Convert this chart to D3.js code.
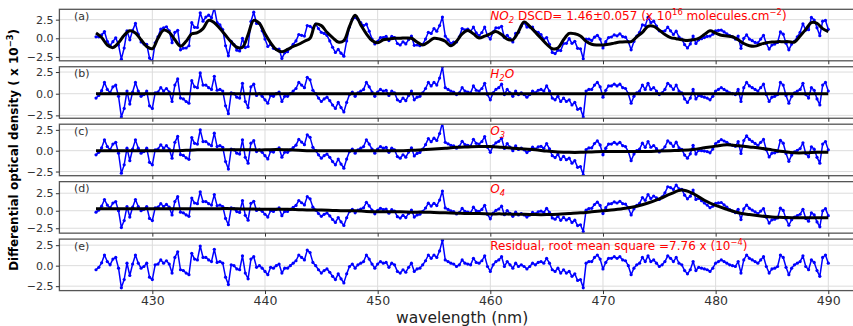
<!DOCTYPE html>
<html>
<head>
<meta charset="utf-8">
<script src="https://cdn.jsdelivr.net/npm/d3@7"></script>
<style>
  body { margin: 0; background: #fff; }
  svg { display: block; font-family: "DejaVu Sans", sans-serif; }
</style>
</head>
<body>
<div id="chart"></div>
<script>
// wavelength grid (nm)
const wlStart = 425;
const residualStep = 0.25;

// fit residual, x 10^-3 (panel e), one value every 0.25 nm from 425 to 490
const residual = [
  -0.5, -0.2, 0.35, 1.3, 0.5, 0.1, 0.8, 1.0, -0.3, -2.7,
  -1.7, 0.3, -1.2, 0.2, 1.3, 0.3, -0.3, -0.1, 0.3, -1.4,
  -1.7, 0.1, 0.2, 0.7, 0.3, 0.6, 0.2, -0.9, 1.0, 1.7,
  -0.5, -0.6, -0.9, -1.1, 1.5, 0.8, 0.7, 2.4, 1.0, 1.0,
  0.7, 0.5, 2.0, 0.4, 0.5, 0.3, -1.4, -2.3, 0.1, 0.0,
  -0.4, -0.5, 1.2, -0.9, -1.6, 0.8, 1.1, -0.2, 0.0, -0.3,
  -0.7, -1.1, -0.2, -0.3, 0.0, 0.2, -0.9, -0.3, -0.3, 0.0,
  0.3, 0.6, 1.3, 1.0, 0.7, 1.9, 1.6, 0.4, 0.0, -0.5,
  -0.9, -0.6, -0.4, -0.8, -1.3, -1.7, -1.0, -1.6, -2.1, -1.0,
  -0.1, 0.2, -0.3, 0.1, 0.3, 0.5, 1.3, 0.8, 0.2, -0.3,
  0.2, 0.5, 0.3, 0.4, -0.2, 0.3, 0.1, -0.7, -0.9, -0.5,
  -0.8, -0.2, 0.3, -0.7, -0.4, -0.3, 0.1, 0.6, 1.3, 0.9,
  1.3, 1.0, 1.8, 3.1, 0.7, 0.5, 0.3, 0.2, -0.1, 0.1,
  0.7, 0.3, 0.2, 0.1, 0.9, 0.4, 0.3, 0.6, 1.2, -0.1,
  -0.7, 0.1, 0.5, 0.7, 1.1, -0.1, 0.5, 0.1, -0.3, 0.3,
  -0.1, 0.1, -0.1, -0.4, -0.1, 0.3, 0.1, 0.4, 0.5, 0.3,
  0.9, 0.3, -0.5, -0.7, -0.3, -0.9, -0.5, -0.9, -0.7, -1.3,
  -1.0, -1.8, -1.7, -2.7, 0.3, 0.5, 0.5, 1.0, 1.3, 0.8,
  -0.4, 0.4, 0.9, 0.9, 1.1, 0.9, 1.1, 0.7, 0.6, 0.0,
  -1.1, -0.3, 0.1, 0.3, 1.0, 0.5, 1.2, 0.5, 0.7, 0.3,
  -0.1, 0.1, 0.5, 1.2, 0.9, 0.5, 1.0, 0.3, 0.1, -0.6,
  -1.0, -0.5, 0.5, -0.6, -0.2, -0.3, -0.4, -0.5, -0.7, -0.3,
  0.3, 0.5, 0.7, 0.5, 0.3, 0.1, 0.0, -0.1, 0.5, -0.9,
  0.7, 1.3, 0.9, 0.7, 0.5, 0.3, 0.7, 1.1, -0.1, -0.9,
  -0.4, -0.3, -0.1, 1.3, 1.0, -0.2, -1.1, -0.3, 0.1, 0.3,
  0.5, 1.2, -0.1, -0.5, 0.7, 0.4, -0.6, -1.3, 1.0, 1.3,
  0.3
];

// fitted NO2 cross section, every 0.5 nm
const no2Step = 0.5;
const no2Fit = [
  0.7, 0.1, -0.9, -1.25, -0.6, 0.4, 1.0, 0.7, -0.2, -1.1,
  -1.4, 0.0, 1.1, 0.8, -0.2, -1.05, -0.4, 0.6, 0.75, 1.3,
  2.4, 2.1, 1.3, 0.4, -0.5, -1.2, -1.2, 0.5, 2.4, 2.0,
  0.6, -0.6, -1.5, -1.8, -1.5, -1.1, -0.8, -0.4, 0.0, 1.9,
  1.7, 0.8, 0.1, -0.5, -0.3, 1.6, 3.1, 1.8, 0.6, -0.3,
  -0.6, -0.2, -0.1, 0.0, 0.0, 0.05, 0.0, -0.5, -0.9, -0.5,
  0.0, -0.1, -0.4, -1.0, -0.4, 0.6, 1.05, 0.6, 0.05, 0.3,
  0.6, 0.9, 0.5, -0.1, -0.2, 0.9, 2.2, 1.6, 0.8, 0.0,
  -0.8, -1.4, -1.3, -0.2, 0.65, 0.6, 0.3, -0.4, -0.8, -0.9,
  -0.9, -0.8, -0.65, -0.5, -0.45, -0.45, 0.2, 0.8, 1.6, 1.6,
  1.1, 0.5, 0.1, -0.05, -0.2, -0.3, -0.2, 0.0, 0.5, 1.0,
  0.7, 0.4, 0.3, 0.2, -0.2, -0.7, -1.0, -1.05, -0.8, -0.6,
  -0.5, -0.45, -0.45, -0.45, -0.5, 0.3, 1.2, 2.1, 2.0, 1.3,
  0.9
];

// fitted H2O, every 5 nm
const h2oStep = 5;
const h2oFit = [0.0, 0.0, 0.0, 0.0, 0.0, 0.0, 0.0, 0.0, 0.0, 0.0, 0.0, 0.0, 0.0, 0.0];

// fitted O3 and O4, every 1 nm
const o3Step = 1;
const o3Fit = [
  0.0, 0.0, 0.0, 0.0, 0.0, 0.0, 0.0, 0.0, 0.05, 0.1,
  0.1, 0.1, 0.1, 0.1, 0.1, 0.1, 0.15, 0.1, 0.05, 0.0,
  0.0, 0.0, 0.0, 0.0, 0.0, 0.0, 0.0, 0.0, 0.05, 0.1,
  0.2, 0.3, 0.4, 0.45, 0.5, 0.5, 0.4, 0.3, 0.2, 0.1,
  -0.05, -0.15, -0.2, -0.2, -0.15, -0.1, -0.1, -0.1, -0.1, -0.1,
  -0.05, 0.0, 0.05, 0.15, 0.35, 0.55, 0.7, 0.6, 0.45, 0.3,
  0.1, -0.1, -0.25, -0.25, -0.2, -0.2
];
const o4Step = 1;
const o4Fit = [
  0.3, 0.3, 0.3, 0.3, 0.3, 0.3, 0.3, 0.3, 0.3, 0.3,
  0.3, 0.3, 0.3, 0.25, 0.25, 0.2, 0.2, 0.2, 0.15, 0.1,
  0.1, 0.05, 0.0, 0.0, -0.1, -0.15, -0.15, -0.15, -0.2, -0.2,
  -0.25, -0.3, -0.35, -0.4, -0.4, -0.45, -0.45, -0.5, -0.5, -0.55,
  -0.55, -0.5, -0.4, -0.3, -0.15, 0.0, 0.15, 0.35, 0.65, 1.1,
  1.7, 2.4, 2.95, 2.45, 1.5, 0.75, 0.2, -0.3, -0.55, -0.75,
  -0.9, -0.95, -1.0, -1.0, -1.0, -1.0
];

const xTicks = [430, 440, 450, 460, 470, 480, 490];
const yTicks = [-2.5, 0, 2.5];
const panelLabels = ['(a)', '(b)', '(c)', '(d)', '(e)'];

const width = 853, height = 326;
const svg = d3.select('#chart').append('svg')
  .attr('width', width).attr('height', height);

const x = d3.scaleLinear().domain([421.75, 493.25]).range([59.4, 864.9]);

const panelTop = 9.3, panelH = 51.5, panelGap = 57.45;
const panels = [
  { fit: no2Fit, step: no2Step, domain: [-3.02, 3.89] },
  { fit: h2oFit, step: h2oStep, domain: [-2.83, 3.11] },
  { fit: o3Fit, step: o3Step, domain: [-3.0, 3.18] },
  { fit: o4Fit, step: o4Step, domain: [-3.2, 4.15] },
  { fit: null, step: null, domain: [-3.04, 3.24] }
];

const frameColor = '#555';
const gridColor = '#dcdcdc';
const textColor = '#333';

panels.forEach((p, i) => {
  const top = panelTop + i * panelGap;
  const bottom = top + panelH;
  const y = d3.scaleLinear().domain(p.domain).range([bottom, top]);
  const g = svg.append('g');

  const clipId = 'clip' + i;
  svg.append('clipPath').attr('id', clipId)
    .append('rect')
    .attr('x', x.range()[0]).attr('y', top)
    .attr('width', x.range()[1] - x.range()[0]).attr('height', panelH);

  // grid
  g.selectAll('.vgrid').data(xTicks).enter().append('line')
    .attr('x1', d => x(d)).attr('x2', d => x(d))
    .attr('y1', top).attr('y2', bottom)
    .attr('stroke', gridColor).attr('stroke-width', 1);
  g.selectAll('.hgrid').data(yTicks).enter().append('line')
    .attr('x1', x.range()[0]).attr('x2', x.range()[1])
    .attr('y1', d => y(d)).attr('y2', d => y(d))
    .attr('stroke', gridColor).attr('stroke-width', 1);

  // measured = fitted + residual
  let fitFn = null;
  if (p.fit) {
    fitFn = d3.scaleLinear()
      .domain(p.fit.map((_, k) => wlStart + k * p.step))
      .range(p.fit);
  }
  const measured = residual.map((r, k) => {
    const wl = wlStart + k * residualStep;
    return { wl, v: (fitFn ? fitFn(wl) : 0) + r };
  });

  const plot = g.append('g').attr('clip-path', `url(#${clipId})`);

  const blueLine = d3.line().x(d => x(d.wl)).y(d => y(d.v));
  plot.append('path').datum(measured)
    .attr('d', blueLine)
    .attr('fill', 'none').attr('stroke', '#0000ff')
    .attr('stroke-width', 1.5).attr('stroke-linejoin', 'round');
  plot.selectAll('.dot').data(measured).enter().append('circle')
    .attr('cx', d => x(d.wl)).attr('cy', d => y(d.v))
    .attr('r', 1.6).attr('fill', '#0000ff');

  if (p.fit) {
    const fitLine = d3.line()
      .x((d, k) => x(wlStart + k * p.step))
      .y(d => y(d))
      .curve(d3.curveCatmullRom);
    plot.append('path').datum(p.fit)
      .attr('d', fitLine)
      .attr('fill', 'none').attr('stroke', '#000')
      .attr('stroke-width', 3).attr('stroke-linejoin', 'round');
  }

  // frame
  g.append('rect')
    .attr('x', x.range()[0]).attr('y', top)
    .attr('width', x.range()[1] - x.range()[0]).attr('height', panelH)
    .attr('fill', 'none').attr('stroke', frameColor).attr('stroke-width', 1.3);

  // y axis
  const ya = g.append('g')
    .attr('transform', `translate(${x.range()[0]},0)`)
    .call(d3.axisLeft(y).tickValues(yTicks).tickFormat(d3.format('.1f'))
      .tickSize(3.5).tickPadding(2.5).tickSizeOuter(0));
  ya.select('.domain').remove();
  ya.selectAll('line').attr('stroke', textColor);
  ya.selectAll('text').attr('fill', textColor)
    .style('font-size', '11px').style('font-family', '"DejaVu Sans", sans-serif');

  // x axis
  const last = i === panels.length - 1;
  const xa = g.append('g')
    .attr('transform', `translate(0,${bottom})`)
    .call(d3.axisBottom(x).tickValues(xTicks)
      .tickFormat(last ? d3.format('d') : () => '')
      .tickSize(3.5).tickPadding(2).tickSizeOuter(0));
  xa.select('.domain').remove();
  xa.selectAll('line').attr('stroke', textColor);
  xa.selectAll('text').attr('fill', textColor)
    .style('font-size', '12.5px').style('font-family', '"DejaVu Sans", sans-serif');

  // panel letter
  g.append('text')
    .attr('x', 74).attr('y', top + 10.5)
    .attr('fill', textColor).style('font-size', '11px')
    .text(panelLabels[i]);
});

// red annotations
const red = '#ff0000';
const noteX = x(460);
function note(i) {
  return svg.append('text')
    .attr('x', noteX).attr('y', panelTop + i * panelGap + 11)
    .attr('fill', red).style('font-size', '12px');
}
function sup(t, txt, shift) {
  t.append('tspan').attr('dy', shift).style('font-size', '8.4px').text(txt);
}

let t = note(0);
t.append('tspan').style('font-style', 'italic').text('NO');
t.append('tspan').attr('dy', 3).style('font-style', 'italic').style('font-size', '8.4px').text('2');
t.append('tspan').attr('dy', -3).text(' DSCD= 1.46\u00b10.057 (x 10');
sup(t, '16', -5);
t.append('tspan').attr('dy', 5).text(' molecules.cm');
sup(t, '\u22122', -5);
t.append('tspan').attr('dy', 5).text(')');

t = note(1);
t.append('tspan').style('font-style', 'italic').text('H');
t.append('tspan').attr('dy', 3).style('font-style', 'italic').style('font-size', '8.4px').text('2');
t.append('tspan').attr('dy', -3).style('font-style', 'italic').text('O');

t = note(2);
t.append('tspan').style('font-style', 'italic').text('O');
t.append('tspan').attr('dy', 3).style('font-style', 'italic').style('font-size', '8.4px').text('3');

t = note(3);
t.append('tspan').style('font-style', 'italic').text('O');
t.append('tspan').attr('dy', 3).style('font-style', 'italic').style('font-size', '8.4px').text('4');

t = note(4);
t.append('tspan').text('Residual, root mean square =7.76 x (10');
sup(t, '\u22124', -5);
t.append('tspan').attr('dy', 5).text(')');

// axis titles
svg.append('text')
  .attr('x', (x.range()[0] + x.range()[1]) / 2).attr('y', 322.5)
  .attr('text-anchor', 'middle').attr('fill', '#222')
  .style('font-size', '15.5px')
  .text('wavelength (nm)');

const yl = svg.append('text')
  .attr('transform', `translate(18,${panelTop + (4 * panelGap + panelH) / 2}) rotate(-90)`)
  .attr('text-anchor', 'middle').attr('fill', '#000')
  .style('font-size', '12px').style('font-weight', 'bold');
yl.append('tspan').text('Differential optical density ( x 10');
yl.append('tspan').attr('dy', -5).style('font-size', '8.4px').text('\u22123');
yl.append('tspan').attr('dy', 5).text(')');
</script>
</body>
</html>
